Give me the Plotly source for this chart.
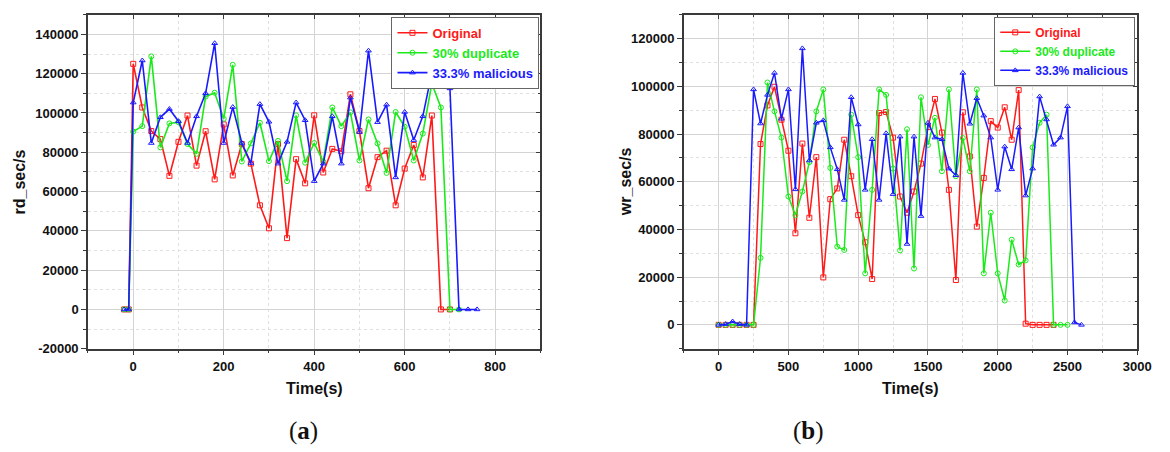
import plotly.graph_objects as go

# ---------------- data: chart (a) rd_sec/s ----------------
t_a_orig = [-20, -10, 0, 20, 40, 60, 80, 100, 120, 140, 160, 180, 200, 220, 240, 260, 280, 300,
            320, 340, 360, 380, 400, 420, 440, 460, 480, 500, 520, 540, 560, 580, 600, 620,
            640, 660, 680, 700]
rd_orig = [0, 0, 125000, 102800, 90800, 86700, 68000, 85300, 98700, 73200, 90700, 66200, 94200,
           68200, 84200, 74200, 53000, 41300, 84200, 36300, 76500, 64200, 98800, 69700, 81700,
           80500, 109500, 90800, 61700, 77500, 80800, 53000, 71700, 83700, 67200, 98700, 0, 0]

t_a_dup = [-20, -10, 0, 20, 40, 60, 80, 100, 120, 140, 160, 180, 200, 220, 240, 260, 280, 300,
           320, 340, 360, 380, 400, 420, 440, 460, 480, 500, 520, 540, 560, 580, 600, 620,
           640, 660, 680, 700, 720]
rd_dup = [0, 0, 90500, 93300, 128800, 82500, 94700, 95300, 84200, 79200, 108300, 110300, 97000,
          124500, 75300, 84500, 95000, 75500, 85800, 65300, 98800, 74700, 84700, 75300, 102800,
          93300, 100300, 75800, 96700, 84500, 69500, 100500, 93000, 75800, 89500, 115000,
          102800, 0, 0]

t_a_mal = [-20, -10, 0, 20, 40, 60, 80, 100, 120, 140, 160, 180, 200, 220, 240, 260, 280, 300,
           320, 340, 360, 380, 400, 420, 440, 460, 480, 500, 520, 540, 560, 580, 600, 620,
           640, 660, 680, 700, 720, 740, 760]
rd_mal = [0, 0, 105300, 126700, 84700, 97800, 102000, 95800, 84700, 98300, 110000, 135500, 84700,
          103000, 84700, 74500, 104500, 95500, 74200, 85300, 105300, 96300, 65300, 74200, 98300,
          74200, 107800, 90300, 131700, 95300, 104200, 67200, 100500, 86200, 98300, 120500,
          114700, 112500, 0, 0, 0]

# ---------------- data: chart (b) wr_sec/s ----------------
t_b_orig = list(range(0, 2401, 50))
wr_orig = [0, 0, 0, 0, 0, 0, 75800, 92000, 99800, 86000, 73000, 38400, 76000, 44900, 70300,
           19900, 52700, 57200, 77600, 62300, 46000, 34600, 19200, 88800, 89200, 78500, 53800,
           47000, 55900, 67600, 82900, 94700, 80600, 56600, 18800, 89100, 70600, 41200, 61600,
           85400, 82700, 91200, 77600, 98400, 500, 0, 0, 0, 0]

t_b_dup = list(range(0, 2501, 50))
wr_dup = [0, 0, 0, 0, 0, 0, 28100, 101600, 89500, 78500, 53800, 46000, 55900, 68200, 89500,
          98700, 65800, 32800, 31400, 88100, 70300, 21600, 56600, 98700, 96400, 65500, 31200,
          82000, 23600, 95400, 75400, 86800, 64400, 98700, 62300, 78300, 64400, 98700, 21600,
          47000, 21600, 10200, 35700, 25300, 27000, 74400, 84700, 88100, 0, 0, 0]

t_b_mal = list(range(0, 2601, 50))
wr_mal = [0, 300, 1400, 300, 0, 98700, 84400, 96400, 105600, 86400, 98700, 56800, 115900, 68900,
          84700, 85700, 74400, 65200, 52400, 95400, 84000, 56600, 77800, 52400, 80300, 54800,
          78900, 33900, 78900, 45600, 84700, 78500, 77800, 65500, 62700, 105600, 84300, 95000,
          87700, 78500, 56600, 74700, 65200, 82700, 54200, 65500, 95700, 86100, 75500, 78500,
          91600, 1000, 0]

# tick labels
ya_tickvals = [-20000, 0, 20000, 40000, 60000, 80000, 100000, 120000, 140000]
ya_ticktext = ["-20000", "0", "20000", "40000", "60000", "80000", "100000", "120000", "140000"]
yb_tickvals = [0, 20000, 40000, 60000, 80000, 100000, 120000]
yb_ticktext = ["0", "20000", "40000", "60000", "80000", "100000", "120000"]

series_names = ["Original", "30% duplicate", "33.3% malicious"]
series_colors = ["#ff1a1a", "#1aea1a", "#1a1aff"]
series_symbols = ["square-open", "circle-open", "triangle-up-open"]

FONT = "Liberation Sans, Arial, sans-serif"

fig = go.Figure()

a_data = [(t_a_orig, rd_orig), (t_a_dup, rd_dup), (t_a_mal, rd_mal)]
b_data = [(t_b_orig, wr_orig), (t_b_dup, wr_dup), (t_b_mal, wr_mal)]

for i, (tx, ty) in enumerate(a_data):
    fig.add_trace(go.Scatter(
        x=tx, y=ty, mode="lines+markers",
        name="<span style='color:%s'>%s</span>" % (series_colors[i], series_names[i]),
        line=dict(color=series_colors[i], width=1.6),
        marker=dict(symbol=series_symbols[i], size=5, color=series_colors[i],
                    line=dict(width=1, color=series_colors[i])),
        xaxis="x", yaxis="y", legend="legend"))

for i, (tx, ty) in enumerate(b_data):
    fig.add_trace(go.Scatter(
        x=tx, y=ty, mode="lines+markers",
        name="<span style='color:%s'>%s</span>" % (series_colors[i], series_names[i]),
        line=dict(color=series_colors[i], width=1.5),
        marker=dict(symbol=series_symbols[i], size=5, color=series_colors[i],
                    line=dict(width=1, color=series_colors[i])),
        xaxis="x2", yaxis="y2", legend="legend2"))

# dummy traces so that mirror (inside-tick) axes are drawn
fig.add_trace(go.Scatter(x=[None], y=[None], xaxis="x3", yaxis="y3", showlegend=False, hoverinfo="skip"))
fig.add_trace(go.Scatter(x=[None], y=[None], xaxis="x4", yaxis="y4", showlegend=False, hoverinfo="skip"))

AX_LINE = "#3a3a3a"
GRID = "#d4d4d4"
tickfont = dict(family=FONT, size=13, color="#111", weight="bold")


def main_axis(rng, dtick, minor_dtick, domain, anchor, tickvals=None, ticktext=None):
    d = dict(domain=domain, range=rng, dtick=dtick, tick0=0, anchor=anchor,
             tickformat="d",
             showgrid=True, gridcolor=GRID, gridwidth=1, zeroline=False,
             showline=True, linecolor=AX_LINE, linewidth=1.5,
             ticks="outside", ticklen=5, tickwidth=1.2, tickcolor=AX_LINE,
             tickfont=tickfont,
             minor=dict(dtick=minor_dtick, tick0=0, showgrid=True, gridcolor="#e0e0e0",
                        griddash="dot", ticks="outside", ticklen=3, tickcolor=AX_LINE))
    if tickvals is not None:
        d.update(tickmode="array", tickvals=tickvals, ticktext=ticktext)
    return d


def mirror_axis(rng, dtick, minor_dtick, side, overlay, anchor):
    return dict(range=rng, dtick=dtick, tick0=0, overlaying=overlay, side=side, anchor=anchor,
                showgrid=False, zeroline=False, showticklabels=False,
                showline=True, linecolor=AX_LINE, linewidth=1.5,
                ticks="inside", ticklen=5, tickwidth=1.2, tickcolor=AX_LINE,
                minor=dict(dtick=minor_dtick, tick0=0, showgrid=False, ticks="inside",
                           ticklen=3, tickcolor=AX_LINE))


dom_ax = [0.0761, 0.4675]
dom_bx = [0.5915, 0.9838]
dom_y = [0.2146, 0.9668]

xa_range = [-100, 900]
ya_range = [-20000, 150000]
xb_range = [-250, 3000]
yb_range = [-10000, 130000]

fig.update_layout(
    width=1170, height=452,
    margin=dict(l=0, r=0, t=0, b=0),
    paper_bgcolor="white", plot_bgcolor="white",
    xaxis=main_axis(xa_range, 200, 100, dom_ax, "y"),
    yaxis=main_axis(ya_range, 20000, 10000, dom_y, "x", ya_tickvals, ya_ticktext),
    xaxis2=main_axis(xb_range, 500, 250, dom_bx, "y2"),
    yaxis2=main_axis(yb_range, 20000, 10000, dom_y, "x2", yb_tickvals, yb_ticktext),
    xaxis3=mirror_axis(xa_range, 200, 100, "top", "x", "y"),
    yaxis3=mirror_axis(ya_range, 20000, 10000, "right", "y", "x"),
    xaxis4=mirror_axis(xb_range, 500, 250, "top", "x2", "y2"),
    yaxis4=mirror_axis(yb_range, 20000, 10000, "right", "y2", "x2"),
    legend=dict(x=546 / 1170, y=0.962, xanchor="right", yanchor="top",
                bgcolor="white", bordercolor="#666", borderwidth=1,
                font=dict(family=FONT, size=13, weight="bold"),
                itemwidth=30, tracegroupgap=0),
    legend2=dict(x=1149 / 1170, y=0.962, xanchor="right", yanchor="top",
                 bgcolor="white", bordercolor="#666", borderwidth=1,
                 font=dict(family=FONT, size=12, weight="bold"),
                 itemwidth=30, tracegroupgap=0),
    showlegend=True,
)

title_font = dict(family=FONT, size=16, color="#111", weight="bold")
ann = [
    dict(text="Time(s)", x=318, y=452 - 395, font=title_font),
    dict(text="Time(s)", x=922, y=452 - 395, font=title_font),
    dict(text="rd_sec/s", x=20, y=452 - 185, font=title_font, textangle=-90),
    dict(text="wr_sec/s", x=633, y=452 - 185, font=title_font, textangle=-90),
    dict(text="(<b>a</b>)", x=307, y=452 - 439,
         font=dict(family="Liberation Serif, DejaVu Serif, serif", size=25, color="#111")),
    dict(text="(<b>b</b>)", x=818, y=452 - 439,
         font=dict(family="Liberation Serif, DejaVu Serif, serif", size=25, color="#111")),
]
for a in ann:
    fig.add_annotation(xref="paper", yref="paper", x=a["x"] / 1170, y=a["y"] / 452,
                       text=a["text"], showarrow=False, font=a["font"],
                       textangle=a.get("textangle", 0), xanchor="center", yanchor="middle")

fig.write_html("out.html")
